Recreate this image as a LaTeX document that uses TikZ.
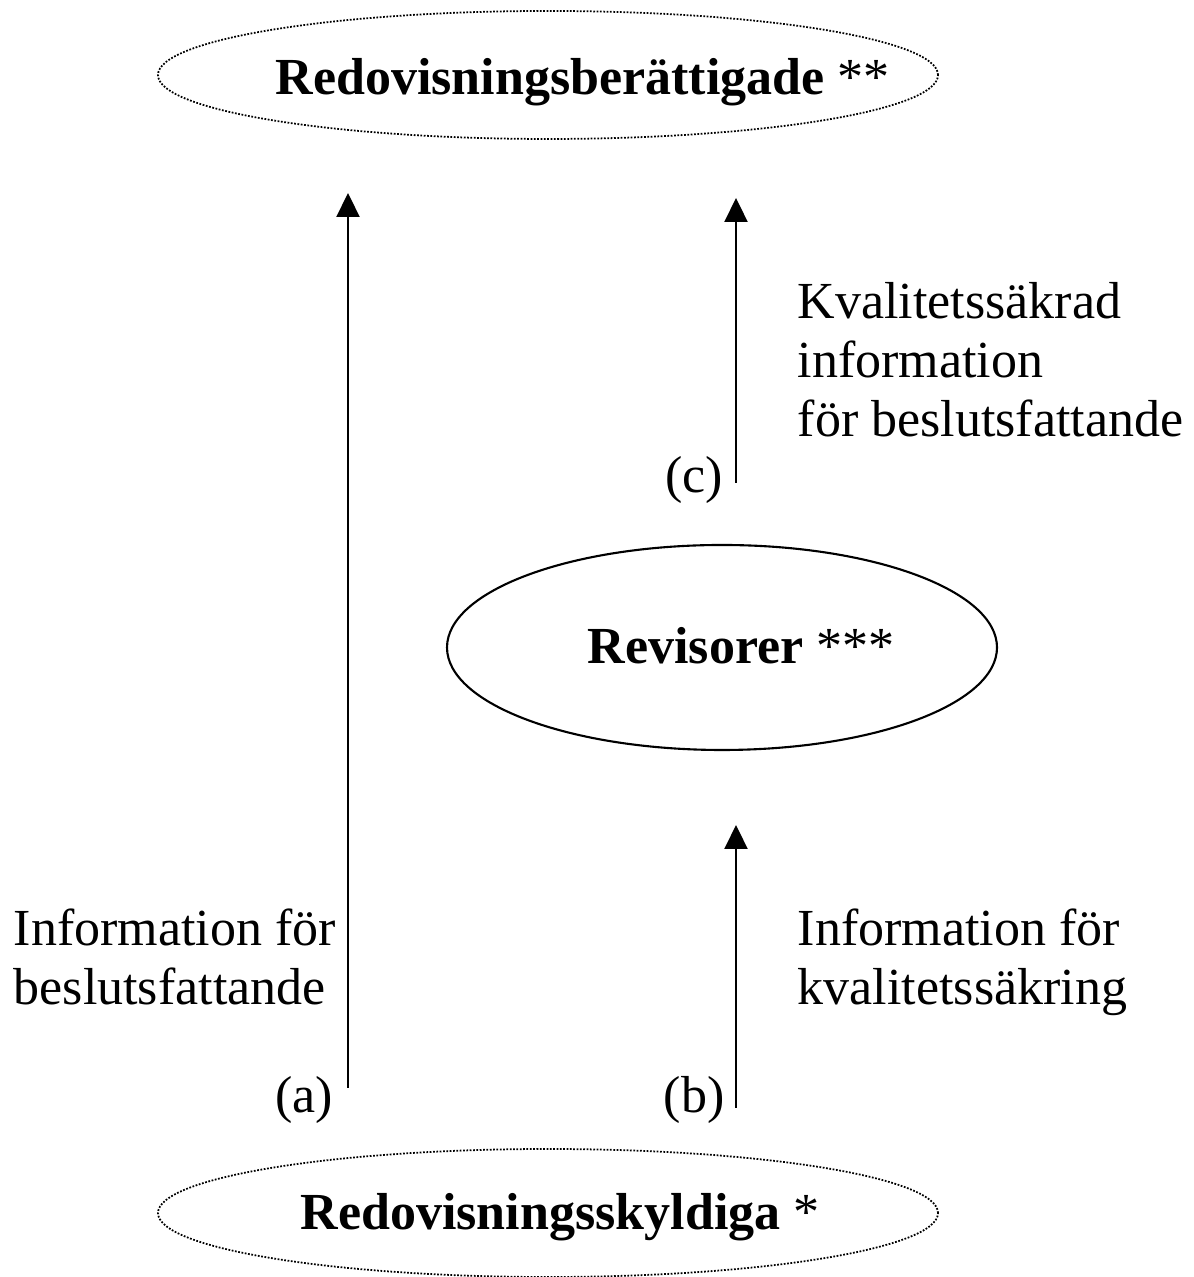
\documentclass[tikz,border=0pt]{standalone}
\usepackage{fontspec}
\setmainfont{Liberation Serif}
\usetikzlibrary{shapes.geometric, arrows.meta}

\begin{document}
\begin{tikzpicture}[font=\fontsize{14.8}{16.8}\selectfont]
    \tikzstyle{dottedellipse} = [ellipse, draw, line width=0.5pt, dash pattern=on 0.5pt off 0.45pt, minimum width=7.8cm, minimum height=1.28cm, inner sep=0pt]
    \tikzstyle{mainellipse} = [ellipse, draw, line width=0.6pt, minimum width=5.5cm, minimum height=2.05cm, inner sep=0pt]
    \tikzstyle{titletext} = [anchor=base west, inner sep=0pt, font=\fontsize{14.8}{16.8}\selectfont\bfseries]
    \tikzstyle{infotext} = [anchor=north west, align=left, inner sep=0pt]
    \tikzstyle{flow} = [-{Triangle[length=2.4mm, width=2.3mm]}, line width=0.6pt]
    \useasboundingbox (0,0) rectangle (11.93,12.77);
    % the three parties
    \node[dottedellipse] (Berattigade) at (5.48,12.02) {};
    \node[titletext] (BerattigadeText) at (2.75,11.82) {Redovisningsberättigade \textmd{**}};
    \node[mainellipse] (Revisorer) at (7.22,6.295) {};
    \node[titletext] (RevisorerText) at (5.87,6.13) {Revisorer \textmd{***}};
    \node[dottedellipse] (Skyldiga) at (5.48,0.64) {};
    \node[titletext] (SkyldigaText) at (3.00,0.47) {Redovisningsskyldiga \textmd{*}};
    % flows
    \coordinate (a0) at (3.48,1.89);
    \coordinate (a1) at (3.48,10.84);
    \coordinate (b0) at (7.36,1.69);
    \coordinate (b1) at (7.36,4.52);
    \coordinate (c0) at (7.36,7.94);
    \coordinate (c1) at (7.36,10.79);
    \foreach \from/\to in {a0/a1, b0/b1, c0/c1}
    {
        \draw[flow] (\from) -- (\to);
    }
    \node (a) at (3.04,1.77) {(a)};
    \node (b) at (6.94,1.77) {(b)};
    \node (c) at (6.94,7.97) {(c)};
    \node[infotext] (InfoA) at (0.13,3.69) {Information för\\beslutsfattande};
    \node[infotext] (InfoB) at (7.97,3.69) {Information för\\kvalitetssäkring};
    \node[infotext] (InfoC) at (7.97,9.95) {Kvalitetssäkrad\\information\\för beslutsfattande};
\end{tikzpicture}
\end{document}
